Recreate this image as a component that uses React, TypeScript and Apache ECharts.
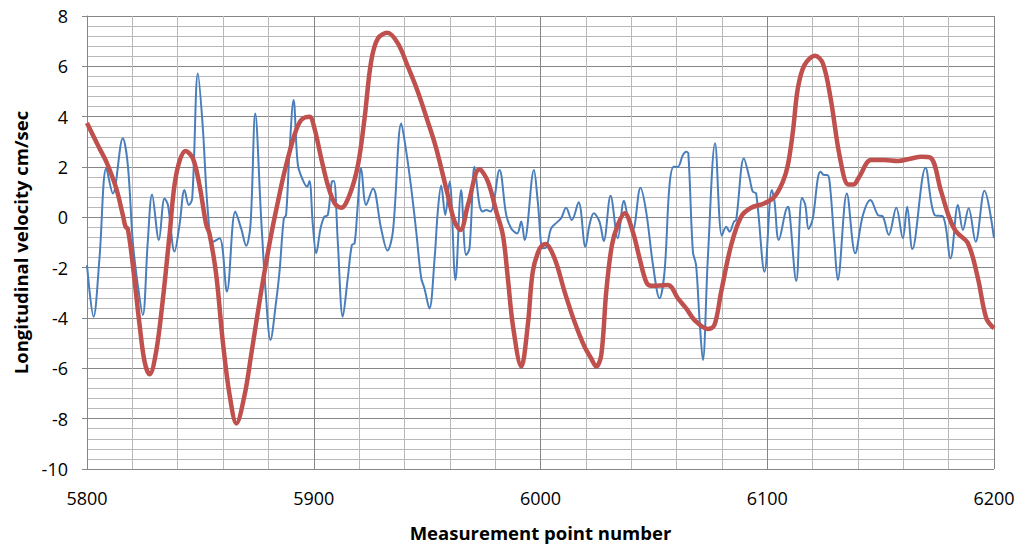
import React, { useEffect, useRef } from "react";
import * as echarts from "echarts";

const xTicks = [5800, 5900, 6000, 6100, 6200];
const yTicks = [-10, -8, -6, -4, -2, 0, 2, 4, 6, 8];

const blueX = [
  5800, 5802.9, 5805.5, 5808.5, 5811.4, 5815.8, 5818, 5820.2, 5822.4, 5824.6,
  5826.8, 5828.7, 5831.7, 5834.2, 5835.7, 5838.6, 5840.8, 5843, 5844.9, 5846.4,
  5848.9, 5851, 5853.3, 5855.5, 5858.5, 5861.7, 5865.4, 5868, 5870.2, 5872.1,
  5874.2, 5876.8, 5879, 5880.9, 5883.4, 5884.9, 5886.8, 5887.8, 5889.3, 5891.1,
  5893, 5895.2, 5897.1, 5898.1, 5899.6, 5901.1, 5903, 5904.7, 5906.2, 5908,
  5908.9, 5910.6, 5912.8, 5915, 5916.8, 5918, 5919.2, 5920.9, 5923.1, 5926.1,
  5929.7, 5932.5, 5934.9, 5938.6, 5940.8, 5943, 5945.2, 5947.4, 5948.8, 5951,
  5953.3, 5954.7, 5956.2, 5958, 5959.9, 5962.5, 5965, 5967.2, 5968.7, 5970.9,
  5973.1, 5974.6, 5976, 5978, 5981.9, 5984.9, 5987.1, 5989.7, 5991.5, 5993,
  5997.1, 5998.8, 6001, 6002.5, 6004.7, 6007.6, 6009.1, 6011.3, 6013.8, 6016.8,
  6019.8, 6021.6, 6023.5, 6026, 6027.9, 6030.9, 6034.1, 6036.8, 6038.5, 6040.7,
  6044.1, 6046.6, 6049.6, 6052.5, 6054.7, 6056.9, 6058.8, 6060.5, 6062.8, 6064.3,
  6065.2, 6067.2, 6068.6, 6070.1, 6071.6, 6073.8, 6077, 6080, 6081.9, 6083.4,
  6085.3, 6086.3, 6089.7, 6092.2, 6093.6, 6095.1, 6098.8, 6102, 6103.2, 6105.1,
  6109.1, 6109.8, 6112.8, 6115.3, 6116.8, 6118.2, 6120.1, 6122.3, 6123.5, 6125,
  6126.4, 6127.5, 6129.7, 6131.1, 6135.1, 6138.8, 6142.2, 6145.5, 6148.8, 6151,
  6153.6, 6156.9, 6159.8, 6161.7, 6164, 6169.8, 6173.8, 6177.5, 6180.8, 6184.1,
  6186.3, 6188.8, 6191.9, 6195.8, 6200,
];
const blueY = [
  -1.9, -3.95, -1.63, 1.95, 0.95, 3.14, 2.08, -0.97, -2.69, -3.88,
  -0.97, 0.91, -0.9, 0.75, 0.49, -1.36, -0.3, 1.09, 0.49, 0.75,
  5.72, 3.67, 0.23, -0.97, -0.83, -2.95, 0.23, -0.45, -1.13, -0.3,
  4.13, -0.04, -3.22, -4.87, -3.36, -2.16, -0.04, 0.09, 2.61, 4.66,
  2.08, 1.48, 1.22, 1.44, -0.3, -1.43, -0.44, 0.03, 0.09, 1.42,
  1.44, -0.97, -3.95, -2.42, -1.1, -1.03, 0.23, 1.95, 0.49, 1.15,
  -0.44, -1.32, -0.57, 3.73, 2.61, 1.15, -0.57, -2.42, -2.82, -3.62,
  -1.63, 0.23, 1.26, 0.09, 1.42, -2.49, 1.09, -1.5, -1.23, 2.01,
  0.49, 0.23, 0.29, 0.23, 1.88, 0.09, -0.44, -0.64, -0.17, -0.9,
  1.88, 0.62, -1.23, -1.2, -0.44, -0.17, -0.04, 0.38, -0.11, 0.6,
  -1.17, -0.3, 0.16, -0.17, -0.94, 0.86, -0.83, 0.66, 0.03, -0.5,
  1.18, 0.23, -1.89, -3.22, -2.16, 1.28, 2.01, 2.0, 2.48, 2.61,
  2.54, -1.36, -1.89, -4.01, -5.67, -1.63, 2.94, -0.73, -0.37, -0.57,
  -0.17, -0.1, 2.34, 1.55, 1.02, 0.95, -2.16, 1.09, 0.62, -0.9,
  0.42, 0.23, -2.53, 0.78, 0.49, -0.46, -0.04, 1.55, 1.81, 1.68,
  1.68, 1.42, -1.1, -2.49, 0.95, -1.43, 0.09, 0.69, 0.09, 0.03,
  -0.7, 0.38, -0.83, 0.42, -1.26, 1.97, 0.09, 0.03, -1.63, 0.49,
  -0.5, 0.36, -0.97, 1.06, -0.83,
];

const redX = [
  5800, 5805.5, 5808.5, 5812.9, 5815.8, 5817, 5818, 5820.2, 5823.2, 5825.4,
  5827.6, 5830.5, 5833.5, 5836.4, 5839.3, 5843.5, 5846.7, 5849.6, 5852.6, 5854,
  5857, 5859.9, 5862.9, 5865.9, 5869.5, 5872.4, 5876.8, 5881.2, 5884.2, 5887.1,
  5891.5, 5894.5, 5898.1, 5900.3, 5903.3, 5906.2, 5909.2, 5912.1, 5915.8, 5919.5,
  5922.4, 5925.3, 5928.3, 5932.5, 5937.1, 5941.5, 5945.9, 5950.3, 5954, 5959.1,
  5962.1, 5964.7, 5968, 5973.1, 5976.8, 5980.5, 5983.4, 5985.6, 5987.8, 5991.5,
  5994.4, 5996.6, 5999.6, 6002.1, 6006.2, 6010.6, 6015, 6019.4, 6022.3, 6024.6,
  6026.8, 6029, 6031.5, 6034.1, 6037.1, 6040.7, 6043.7, 6046.6, 6048.8, 6056.2,
  6060.6, 6064.5, 6067.9, 6073.8, 6076.7, 6079.7, 6084.1, 6088.5, 6092.9, 6098.8,
  6103.2, 6106.9, 6109.1, 6111.3, 6113.5, 6116.4, 6121.1, 6124.5, 6128, 6132,
  6135.8, 6138, 6140.5, 6145.8, 6151.5, 6157.6, 6163.5, 6167.9, 6172, 6176.7,
  6180.4, 6183.3, 6188.5, 6192.9, 6196.6, 6200,
];
const redY = [
  3.75, 2.74, 2.21, 1.15, 0.09, -0.37, -0.46, -1.89, -4.28, -5.74,
  -6.24, -5.34, -3.22, -0.7, 1.68, 2.64, 2.34, 1.28, -0.3, -0.64,
  -2.29, -4.94, -7.06, -8.19, -7.06, -5.47, -2.95, -0.7, 0.62, 1.81,
  3.27, 3.87, 4.0, 3.54, 2.34, 1.28, 0.56, 0.38, 0.89, 2.08,
  3.93, 6.19, 7.11, 7.33, 6.91, 5.99, 4.99, 3.8, 2.74, 0.89,
  -0.17, -0.5, 0.49, 1.91, 1.42, 0.23, -0.7, -2.42, -4.28, -5.93,
  -4.28, -2.16, -1.25, -1.06, -1.63, -2.95, -4.15, -5.14, -5.6, -5.93,
  -5.47, -2.95, -1.1, -0.3, 0.16, -0.57, -1.63, -2.56, -2.72, -2.69,
  -3.22, -3.65, -4.08, -4.44, -4.28, -2.95, -1.1, 0.03, 0.38, 0.56,
  0.82, 1.42, 2.08, 3.4, 5.13, 6.05, 6.42, 6.12, 4.7, 2.4,
  1.3, 1.3, 1.6, 2.28, 2.28, 2.24, 2.34, 2.41, 2.37, 1.02,
  -0.04, -0.57, -1.03, -2.42, -4.01, -4.41,
];

const xTitle = "Measurement point number";
const yTitle = "Longitudinal velocity cm/sec";

const zip = (xs: number[], ys: number[]) => xs.map((x, i) => [x, ys[i]]);

const FONT = "'Open Sans', 'Liberation Sans', sans-serif";
const MAJOR = "#868686";
const MINOR = "#b9b9b9";

export default function App() {
  const ref = useRef<HTMLDivElement>(null);
  useEffect(() => {
    if (!ref.current) return;
    const chart = echarts.init(ref.current, undefined, { renderer: "svg" });
    chart.setOption({
      animation: false,
      backgroundColor: "#ffffff",
      grid: { left: 87, right: 35, top: 16, bottom: 78, containLabel: false },
      xAxis: {
        type: "value",
        min: xTicks[0],
        max: xTicks[xTicks.length - 1],
        interval: 100,
        name: xTitle,
        nameLocation: "middle",
        nameGap: 54,
        nameTextStyle: { fontFamily: FONT, fontWeight: "bold", fontSize: 18.5, color: "#000" },
        axisLine: { show: true, lineStyle: { color: MAJOR, width: 1 } },
        axisTick: { show: true, length: 5, lineStyle: { color: MAJOR } },
        axisLabel: {
          fontFamily: FONT,
          fontSize: 18,
          color: "#000",
          margin: 20,
          formatter: (v: number) => String(v),
        },
        splitLine: { show: true, lineStyle: { color: MAJOR, width: 1 } },
        minorTick: { show: false, splitNumber: 5 },
        minorSplitLine: { show: true, lineStyle: { color: MINOR, width: 1 } },
      },
      yAxis: {
        type: "value",
        min: yTicks[0],
        max: yTicks[yTicks.length - 1],
        interval: 2,
        name: yTitle,
        nameLocation: "middle",
        nameGap: 57,
        nameRotate: 90,
        nameTextStyle: { fontFamily: FONT, fontWeight: "bold", fontSize: 18.5, color: "#000" },
        axisLine: { show: true, lineStyle: { color: MAJOR, width: 1 } },
        axisTick: { show: true, length: 5, lineStyle: { color: MAJOR } },
        axisLabel: {
          fontFamily: FONT,
          fontSize: 18,
          color: "#000",
          margin: 19,
          formatter: (v: number) => String(v),
        },
        splitLine: { show: true, lineStyle: { color: MAJOR, width: 1 } },
        minorTick: { show: false, splitNumber: 5 },
        minorSplitLine: { show: true, lineStyle: { color: MINOR, width: 1 } },
      },
      series: [
        {
          type: "line",
          name: "measured",
          data: zip(blueX, blueY),
          smooth: 0.35,
          showSymbol: false,
          lineStyle: { color: "#4a7ebb", width: 2 },
          z: 2,
        },
        {
          type: "line",
          name: "smoothed",
          data: zip(redX, redY),
          smooth: 0.35,
          showSymbol: false,
          lineStyle: { color: "#c0504d", width: 4.5 },
          z: 3,
        },
      ],
    });
    return () => chart.dispose();
  }, []);
  return (
    <div
      ref={ref}
      style={{ position: "absolute", left: 0, top: 0, width: 1029, height: 547, background: "#fff" }}
    />
  );
}
